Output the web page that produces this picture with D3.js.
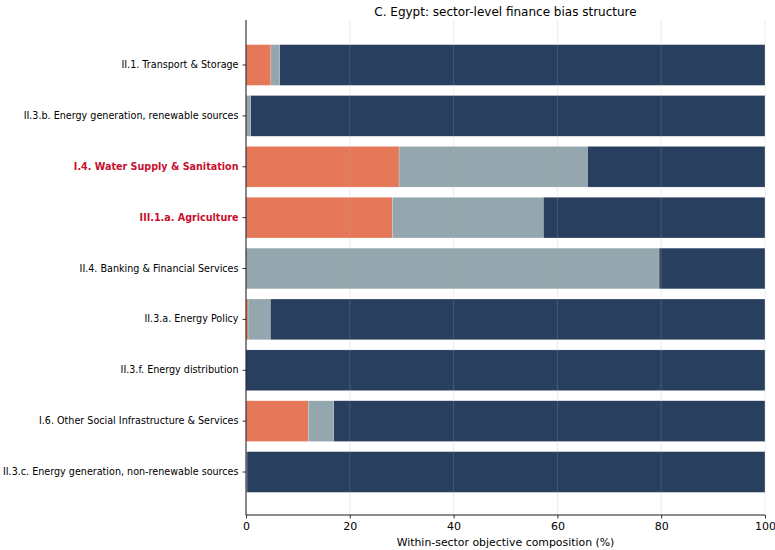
<!DOCTYPE html>
<html>
<head>
<meta charset="utf-8">
<script src="https://cdn.jsdelivr.net/npm/d3@7"></script>
<style>
  body { margin: 0; background: #fff; }
  svg { display: block; font-family: "DejaVu Sans", sans-serif; }
</style>
</head>
<body>
<svg id="chart" width="775" height="550"></svg>
<script>
// Sectors, top to bottom
const sectors = [
  "II.1. Transport & Storage",
  "II.3.b. Energy generation, renewable sources",
  "I.4. Water Supply & Sanitation",
  "III.1.a. Agriculture",
  "II.4. Banking & Financial Services",
  "II.3.a. Energy Policy",
  "II.3.f. Energy distribution",
  "I.6. Other Social Infrastructure & Services",
  "II.3.c. Energy generation, non-renewable sources"
];
// Sectors whose labels are emphasised
const highlighted = ["I.4. Water Supply & Sanitation", "III.1.a. Agriculture"];

// Within-sector shares (%) of each objective component
const shareA = [4.8, 0.0, 29.5, 28.2, 0.0, 0.4, 0.0, 12.0, 0.0];
const shareB = [1.7, 0.9, 36.3, 29.1, 79.6, 4.3, 0.0, 4.9, 0.2];
const shareC = [93.5, 99.1, 34.2, 42.7, 20.4, 95.3, 100.0, 83.1, 99.8];

const xTicks = [0, 20, 40, 60, 80, 100];
const seriesColors = ["#E57858", "#94A6AE", "#283F5F"];

const margin = { left: 246, right: 10, top: 20, bottom: 35 };
const W = 775, H = 550;
const plotBottom = H - margin.bottom;

const svg = d3.select("#chart");

const x = d3.scaleLinear().domain([0, 100]).range([margin.left, 765]);
const step = 50.875;
const y = d3.scaleBand()
  .domain(sectors)
  .range([65 - step / 2, 65 + step * 8.5])
  .paddingInner(0.2)
  .paddingOuter(0.1);

const rows = sectors.map((s, i) => ({ sector: s, a: shareA[i], b: shareB[i], c: shareC[i] }));
const stacked = d3.stack().keys(["a", "b", "c"])(rows);

// Bars
const g = svg.append("g");
stacked.forEach((layer, li) => {
  g.selectAll(null)
    .data(layer)
    .join("rect")
    .attr("x", d => x(d[0]))
    .attr("width", d => Math.max(0, x(d[1]) - x(d[0])))
    .attr("y", d => y(d.data.sector))
    .attr("height", y.bandwidth())
    .attr("fill", seriesColors[li])
    .attr("stroke", "#ffffff")
    .attr("stroke-width", 0.4)
    .attr("stroke-opacity", 0.5);
});

// Vertical gridlines
svg.append("g")
  .selectAll("line")
  .data(xTicks)
  .join("line")
  .attr("x1", d => x(d)).attr("x2", d => x(d))
  .attr("y1", margin.top).attr("y2", plotBottom)
  .attr("stroke", "#b0b0b0")
  .attr("stroke-opacity", 0.3)
  .attr("stroke-width", 0.8);

// X axis
const xAxis = svg.append("g")
  .attr("transform", `translate(0,${plotBottom})`)
  .call(d3.axisBottom(x).tickValues(xTicks).tickSize(3.5).tickPadding(3.5).tickFormat(d3.format("d")));
xAxis.select(".domain").attr("stroke", "#000").attr("stroke-width", 0.9)
  .attr("d", `M${margin.left},0H${765}`);
xAxis.selectAll("text").attr("font-size", 11).attr("fill", "#000").attr("font-family", "DejaVu Sans");
xAxis.selectAll(".tick line").attr("stroke", "#000").attr("stroke-width", 0.8);

// Y axis
const yAxis = svg.append("g")
  .attr("transform", `translate(${margin.left},0)`)
  .call(d3.axisLeft(y).tickSize(3.5).tickPadding(4));
yAxis.select(".domain").attr("stroke", "#000").attr("stroke-width", 0.9)
  .attr("d", `M0,${margin.top}V${plotBottom}`);
yAxis.selectAll(".tick line").attr("stroke", "#000").attr("stroke-width", 0.8);
yAxis.selectAll("text")
  .attr("font-size", 9.6)
  .attr("font-family", "DejaVu Sans")
  .attr("fill", d => highlighted.includes(d) ? "#C8102E" : "#000")
  .attr("font-weight", d => highlighted.includes(d) ? "bold" : "normal");

// Title
svg.append("text")
  .attr("x", (margin.left + 765) / 2)
  .attr("y", 16)
  .attr("text-anchor", "middle")
  .attr("font-size", 12)
  .attr("fill", "#000")
  .text("C. Egypt: sector-level finance bias structure");

// X axis label
svg.append("text")
  .attr("x", (margin.left + 765) / 2)
  .attr("y", 546)
  .attr("text-anchor", "middle")
  .attr("font-size", 10.9)
  .attr("fill", "#000")
  .text("Within-sector objective composition (%)");
</script>
</body>
</html>
